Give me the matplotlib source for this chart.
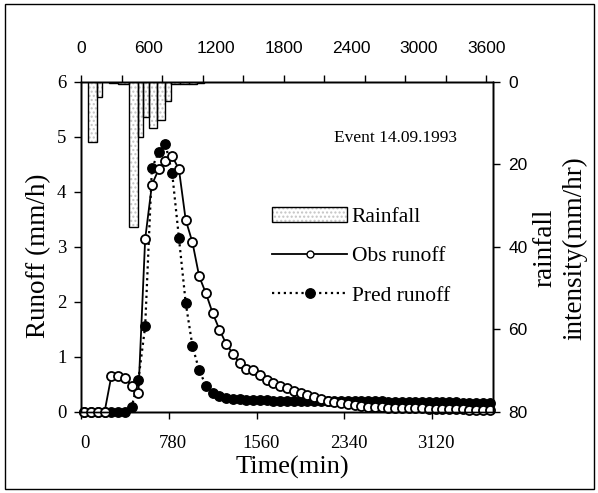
import matplotlib
matplotlib.use("Agg")
import matplotlib.pyplot as plt
import numpy as np
from matplotlib.patches import Patch, Rectangle
from matplotlib.lines import Line2D
from matplotlib.legend_handler import HandlerTuple
from matplotlib.transforms import ScaledTranslation

SERIF = "Liberation Serif"
SANS = "Liberation Sans"

# hourly runoff samples (min)
time_min = np.arange(30, 3631, 60)

obs_runoff = [0, 0, 0, 0, 0.65, 0.64, 0.61, 0.46, 0.34, 3.14,
              4.13, 4.41, 4.57, 4.65, 4.41, 3.49, 3.08, 2.46, 2.15, 1.79,
              1.49, 1.23, 1.05, 0.88, 0.78, 0.76, 0.67, 0.58, 0.52, 0.46,
              0.43, 0.38, 0.34, 0.30, 0.26, 0.23, 0.20, 0.17, 0.15, 0.13,
              0.11, 0.10, 0.09, 0.08, 0.08, 0.07, 0.07, 0.07, 0.06, 0.06,
              0.06, 0.05, 0.05, 0.05, 0.04, 0.04, 0.04, 0.03, 0.03, 0.03,
              0.03]

pred_runoff = [0, 0, 0, 0, 0, 0, 0, 0.08, 0.58, 1.55,
               4.43, 4.72, 4.87, 4.34, 3.16, 1.98, 1.19, 0.75, 0.47, 0.34,
               0.28, 0.25, 0.23, 0.22, 0.21, 0.21, 0.21, 0.21, 0.20, 0.20,
               0.20, 0.20, 0.20, 0.20, 0.20, 0.20, 0.20, 0.20, 0.20, 0.19,
               0.19, 0.19, 0.19, 0.19, 0.19, 0.18, 0.18, 0.18, 0.18, 0.18,
               0.18, 0.17, 0.17, 0.17, 0.17, 0.17, 0.16, 0.16, 0.16, 0.16,
               0.16]

# rainfall blocks: start (min), duration (min), intensity (mm/hr)
rain_start = [59, 139, 250, 330, 428, 503, 555, 605, 674, 745, 798, 880, 960, 1030]
rain_width = [80, 44, 80, 98, 75, 52, 50, 69, 71, 53, 82, 80, 70, 60]
rain_int = [14.5, 3.7, 0.3, 0.6, 35.1, 13.3, 8.4, 11.2, 9.2, 4.5, 0.6, 0.5, 0.4, 0.3]

bottom_ticks = [0, 780, 1560, 2340, 3120]
top_labels = [0, 600, 1200, 1800, 2400, 3000, 3600]

fig = plt.figure(figsize=(5.98, 4.93), dpi=100)
ax = fig.add_axes([81 / 598, 1 - 411.5 / 493, 412 / 598, 329.5 / 493])

ax.plot(time_min, pred_runoff, color="black", linestyle=":", linewidth=1.6,
        marker="o", markersize=6.8, markerfacecolor="black",
        markeredgecolor="black", clip_on=False, zorder=3)
ax.plot(time_min, obs_runoff, color="black", linestyle="-", linewidth=1.3,
        marker="o", markersize=6.5, markerfacecolor="white",
        markeredgecolor="black", markeredgewidth=1.3, clip_on=False, zorder=4)

ax.set_xlim(0, 3660)
ax.set_ylim(0, 6)
ax.set_xticks(bottom_ticks)
ax.set_yticks(range(7))
ax.tick_params(axis="both", direction="out", length=5, width=1,
               labelsize=13.5)
ax.tick_params(axis="x", pad=12)
ax.tick_params(axis="y", pad=5.5)
for lab in ax.get_xticklabels() + ax.get_yticklabels():
    lab.set_fontfamily(SERIF)
for lab in ax.get_xticklabels():
    lab.set_transform(lab.get_transform() +
                      ScaledTranslation(4 / 100, 0, fig.dpi_scale_trans))

# rainfall hanging from the top
ax2 = ax.twinx()
ax2.bar(rain_start, rain_int, width=rain_width, align="edge",
        facecolor="white", edgecolor="#c4c4c4", hatch="....", linewidth=0)
ax2.bar(rain_start, rain_int, width=rain_width, align="edge",
        fill=False, edgecolor="black", linewidth=1)
ax2.set_ylim(80, 0)
ax2.set_yticks([0, 20, 40, 60, 80])
ax2.tick_params(axis="y", direction="out", length=5, width=1,
                labelsize=12.5, pad=6)
for lab in ax2.get_yticklabels():
    lab.set_fontfamily(SANS)

# top time axis: ticks every 360, labels every 600
ax3 = ax.twiny()
ax3.set_xlim(0, 3660)
ax3.xaxis.remove_overlapping_locs = False
ax3.set_xticks(np.arange(0, 3601, 360))
ax3.set_xticklabels([])
ax3.set_xticks(top_labels, minor=True)
ax3.set_xticklabels([str(v) for v in top_labels], minor=True)
ax3.tick_params(axis="x", which="major", direction="out", length=5, width=1)
ax3.tick_params(axis="x", which="minor", length=0, labelsize=12.5, pad=19)
for lab in ax3.get_xticklabels(minor=True):
    lab.set_fontfamily(SANS)

for a in (ax, ax2, ax3):
    for sp in a.spines.values():
        sp.set_linewidth(1)

rain_handle = (Patch(facecolor="white", edgecolor="#c4c4c4", hatch="....",
                     linewidth=0),
               Patch(fill=False, edgecolor="black", linewidth=1))
obs_handle = Line2D([], [], color="black", linewidth=1.3, marker="o",
                    markersize=5, markerfacecolor="white",
                    markeredgecolor="black")
pred_handle = Line2D([], [], color="black", linestyle=":", linewidth=1.6,
                     marker="o", markersize=6.8, markerfacecolor="black")
ax3.legend([rain_handle, obs_handle, pred_handle],
           ["Rainfall", "Obs runoff", "Pred runoff"],
           handler_map={tuple: HandlerTuple(ndivide=1, pad=0)},
           loc="upper left", bbox_to_anchor=(272 / 598, 1 - 207 / 493),
           bbox_transform=fig.transFigure, frameon=False,
           prop={"family": SERIF, "size": 15.5}, handlelength=3.5,
           handleheight=0.68, handletextpad=0.2, labelspacing=0.9,
           borderpad=0, borderaxespad=0)

fig.text(395 / 598, 1 - 138 / 493, "Event 14.09.1993", ha="center",
         va="center", fontsize=12.5, family=SERIF)
fig.text(39 / 598, 1 - 256 / 493, "Runoff (mm/h)", rotation=90,
         ha="center", va="center", fontsize=19.5, family=SERIF)
fig.text(292 / 598, 1 - 467 / 493, "Time(min)", ha="center", va="center",
         fontsize=19, family=SERIF)
fig.text(560 / 598, 1 - 248 / 493, "rainfall\nintensity(mm/hr)",
         rotation=90, ha="center", va="center", multialignment="center",
         fontsize=19.5, family=SERIF, linespacing=1.3)

fig.add_artist(Rectangle((0.008, 0.008), 0.986, 0.984,
                         transform=fig.transFigure, fill=False,
                         edgecolor="black", linewidth=1))

fig.savefig("out.png", dpi=100)
